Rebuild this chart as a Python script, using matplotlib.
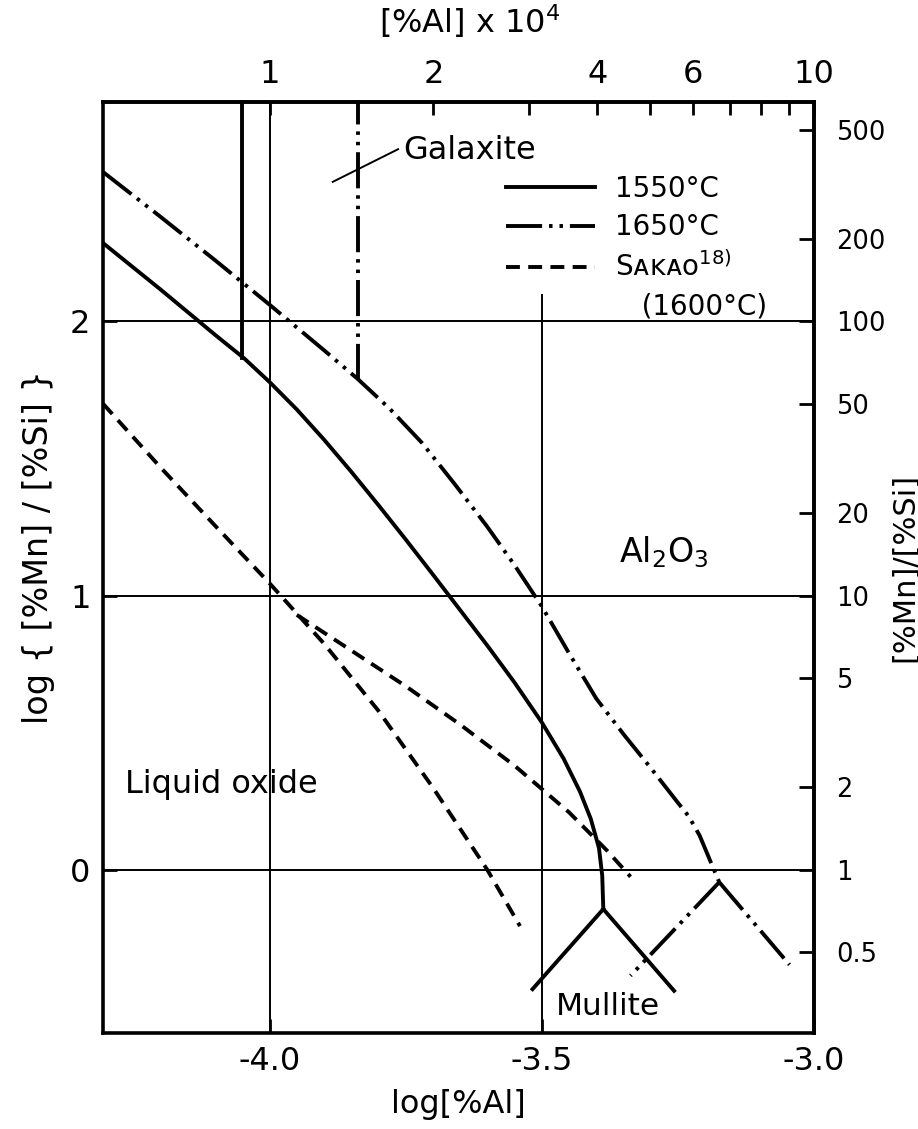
"""Mn-Si-Al deoxidation equilibrium diagram (log[%Al] vs log{[%Mn]/[%Si]})."""

import matplotlib
matplotlib.use("Agg")
import matplotlib.pyplot as plt
import numpy as np
from matplotlib.lines import Line2D

plt.rcParams["font.family"] = ["DejaVu Sans"]
plt.rcParams["lines.scale_dashes"] = False

# 1550 C : liquid oxide / Al2O3 boundary
x_1550 = [-4.306, -4.20, -4.10, -4.047, -4.00, -3.95, -3.90, -3.85, -3.80, -3.75,
          -3.70, -3.60, -3.55, -3.50, -3.46, -3.43, -3.41, -3.395, -3.389, -3.387]
y_1550 = [2.286, 2.116, 1.951, 1.866, 1.779, 1.679, 1.569, 1.452, 1.33, 1.205,
          1.077, 0.818, 0.683, 0.538, 0.406, 0.286, 0.186, 0.08, -0.02, -0.143]
# 1550 C : mullite branches from the triple point
x_1550_mul_l = [-3.387, -3.517]
y_1550_mul_l = [-0.143, -0.435]
x_1550_mul_r = [-3.387, -3.257]
y_1550_mul_r = [-0.143, -0.441]
# 1550 C : galaxite boundary
gal_x_1550 = -4.050
gal_y_1550 = 1.866

# 1650 C
x_1650 = [-4.306, -4.20, -4.10, -4.00, -3.90, -3.838, -3.78, -3.72, -3.66, -3.60,
          -3.55, -3.50, -3.45, -3.40, -3.35, -3.30, -3.25, -3.23, -3.21, -3.19, -3.174]
y_1650 = [2.545, 2.381, 2.223, 2.061, 1.895, 1.790, 1.683, 1.557, 1.407, 1.251,
          1.111, 0.961, 0.79, 0.625, 0.495, 0.372, 0.245, 0.195, 0.125, 0.03, -0.045]
x_1650_mul_l = [-3.174, -3.337]
y_1650_mul_l = [-0.045, -0.386]
x_1650_mul_r = [-3.174, -3.045]
y_1650_mul_r = [-0.045, -0.346]
gal_x_1650 = -3.838
gal_y_1650 = 1.787

# Sakao (1600 C), two dashed curves
x_sak1 = [-4.306, -4.20, -4.10, -4.00, -3.90, -3.80, -3.70, -3.60, -3.54]
y_sak1 = [1.70, 1.467, 1.255, 1.045, 0.825, 0.58, 0.30, 0.0, -0.205]
x_sak2 = [-3.95, -3.85, -3.75, -3.65, -3.55, -3.45, -3.38, -3.337]
y_sak2 = [0.93, 0.80, 0.67, 0.53, 0.38, 0.21, 0.07, -0.025]

# axes / ticks
xlim = (-4.306, -3.0)
ylim = (-0.595, 2.80)
x_ticks = [-4.0, -3.5, -3.0]
x_ticklabels = ["-4.0", "-3.5", "-3.0"]
y_ticks = [0, 1, 2]
y_ticklabels = ["0", "1", "2"]
al_ticks = [1, 2, 4, 6, 10]
al_ticklabels = ["1", "2", "4", "6", "10"]
al_minor = [3, 5, 7, 8, 9]
ratio_ticks = [0.5, 1, 2, 5, 10, 20, 50, 100, 200, 500]
ratio_ticklabels = ["0.5", "1", "2", "5", "10", "20", "50", "100", "200", "500"]
grid_x = [-4.0]
grid_y = [0, 1, 2]
grid_x_part = -3.5
grid_x_part_top = 2.095

LW = 2.8
DASH = (0, (10, 6))
DASHDOT = (0, (26, 5, 2.5, 5, 2.5, 5))

fig = plt.figure(figsize=(9.18, 11.29), dpi=100)
ax = fig.add_axes([0.1122, 0.085, 0.7745, 0.8246])
ax.set_xlim(*xlim)
ax.set_ylim(*ylim)

# grid
for gx in grid_x:
    ax.axvline(gx, color="k", lw=1.4, zorder=1)
for gy in grid_y:
    ax.axhline(gy, color="k", lw=1.4, zorder=1)
ax.plot([grid_x_part, grid_x_part], [ylim[0], grid_x_part_top], color="k", lw=1.4, zorder=1)

# 1550 C
ax.plot(x_1550, y_1550, color="k", lw=LW)
ax.plot(x_1550_mul_l, y_1550_mul_l, color="k", lw=LW)
ax.plot(x_1550_mul_r, y_1550_mul_r, color="k", lw=LW)
ax.plot([gal_x_1550, gal_x_1550], [gal_y_1550, ylim[1]], color="k", lw=LW)

# 1650 C
ax.plot(x_1650, y_1650, color="k", lw=LW, ls=DASHDOT)
ax.plot(x_1650_mul_l, y_1650_mul_l, color="k", lw=LW, ls=DASHDOT)
ax.plot(x_1650_mul_r, y_1650_mul_r, color="k", lw=LW, ls=DASHDOT)
ax.plot([gal_x_1650, gal_x_1650], [gal_y_1650, ylim[1]], color="k", lw=LW, ls=DASHDOT)

# Sakao
ax.plot(x_sak1, y_sak1, color="k", lw=LW, ls=DASH)
ax.plot(x_sak2, y_sak2, color="k", lw=LW, ls=DASH)

# region labels
ax.plot([-3.884, -3.764], [2.509, 2.628], color="k", lw=1.4)
ax.text(-3.755, 2.625, "Galaxite", fontsize=23, ha="left", va="center")
ax.text(-3.358, 1.16, "Al$_2$O$_3$", fontsize=24, ha="left", va="center")
ax.text(-4.266, 0.31, "Liquid oxide", fontsize=23, ha="left", va="center")
ax.text(-3.474, -0.50, "Mullite", fontsize=22.5, ha="left", va="center")

# legend
handles = [
    Line2D([], [], color="k", lw=LW),
    Line2D([], [], color="k", lw=LW, ls=DASHDOT),
    Line2D([], [], color="k", lw=LW, ls=DASH),
    Line2D([], [], ls="none"),
]
labels = ["1550°C", "1650°C", "Sᴀᴋᴀᴏ$^{18)}$", "   (1600°C)"]
ax.legend(handles, labels, loc="upper left", bbox_to_anchor=(0.567, 0.922),
          frameon=False, fontsize=20, handlelength=3.2, handletextpad=0.72,
          labelspacing=0.38, borderpad=0, borderaxespad=0)

# main axes ticks
ax.set_xticks(x_ticks, labels=x_ticklabels)
ax.set_yticks(y_ticks, labels=y_ticklabels)
ax.tick_params(direction="in", length=10, width=2, labelsize=23, pad=9,
               top=False, right=False)
ax.set_xlabel("log[%Al]", fontsize=23, labelpad=9)
ax.set_ylabel("log { [%Mn] / [%Si] }", fontsize=24)
ax.yaxis.set_label_coords(-0.068, 0.522)
for sp in ax.spines.values():
    sp.set_linewidth(2.6)

# top axis: [%Al] x 10^4
top = ax.secondary_xaxis("top", functions=(lambda x: 10 ** (x + 4),
                                           lambda v: np.log10(np.clip(v, 1e-12, None)) - 4))
top.set_xticks(al_ticks, labels=al_ticklabels)
top.set_xticks(al_minor, minor=True)
top.tick_params(which="both", direction="in", length=9, width=2, labelsize=23, pad=9)
top.set_xlabel("[%Al] x 10$^4$", fontsize=23)
top.xaxis.set_label_coords(0.516, 1.074, transform=ax.transAxes)
top.spines["top"].set_linewidth(2.6)

# right axis: [%Mn]/[%Si]
right = ax.secondary_yaxis("right", functions=(lambda y: 10 ** y,
                                               lambda v: np.log10(np.clip(v, 1e-12, None))))
right.set_yticks(ratio_ticks, labels=ratio_ticklabels)
right.yaxis.set_minor_locator(matplotlib.ticker.NullLocator())
right.tick_params(direction="in", length=11, width=2, labelsize=18.5, pad=16)
right.set_ylabel("[%Mn]/[%Si]", fontsize=22, labelpad=3)
right.spines["right"].set_linewidth(2.6)

fig.savefig("out.png", dpi=100)
